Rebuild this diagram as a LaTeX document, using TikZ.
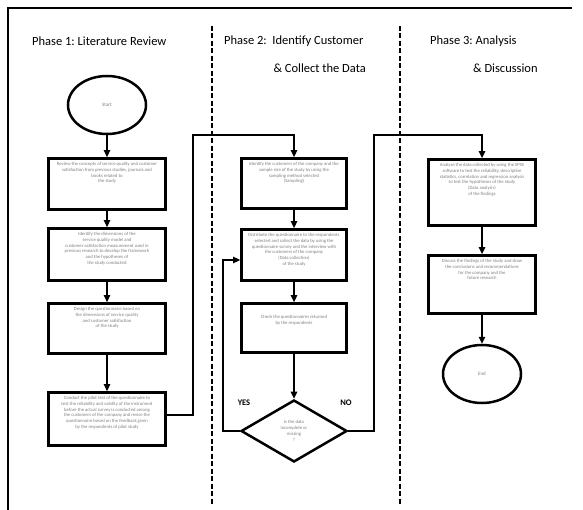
\documentclass[tikz,border=0pt]{standalone}
\usepackage{fontspec}
\setmainfont{Carlito}
\usetikzlibrary{arrows.meta,shapes.geometric,calc}
\frenchspacing
\begin{document}
\begin{tikzpicture}[x=1pt,y=-1pt,
  title/.style={font=\fontsize{12.5}{14}\selectfont, inner sep=0pt},
  divider/.style={line width=1.4pt, dash pattern=on 5pt off 2.5pt},
  frameline/.style={line width=1.3pt},
  box/.style={draw=black, line width=2.8pt, fill=white, inner sep=0pt, minimum width=#1},
  box/.default=117,
  boxtxt/.style={anchor=north, yshift=-5pt, inner sep=0pt, align=center,
    font=\fontsize{4.7}{5.8}\selectfont, text=black!50},
  startend/.style={ellipse, draw=black, line width=2.5pt, fill=white, inner sep=0pt,
    minimum width=78, minimum height=58, font=\fontsize{5}{6}\selectfont, text=black!50},
  decision/.style={diamond, draw=black, line width=2.5pt, fill=white, inner sep=0pt,
    minimum width=106, minimum height=62, align=center,
    font=\fontsize{4.7}{5.8}\selectfont, text=black!50},
  conn/.style={line width=1.3pt, -{Triangle[length=7pt,width=6.5pt]}},
  yn/.style={font=\bfseries\fontsize{8.5}{10}\selectfont, inner sep=0pt}
]
\useasboundingbox (0,0) rectangle (583,510);

% frame (top and left only)
\draw[frameline] (8,510) -- (8,8) -- (572,8);

% phase dividers
\draw[divider] (212,26) -- (212,505);
\draw[divider] (400,26) -- (400,505);

% titles
\node[title, anchor=west] (t1) at (32,41) {Phase 1: Literature Review};
\node[title, anchor=west] (t2) at (224,41) {Phase 2:\ \ Identify Customer};
\node[title, anchor=east] (t2b) at (366,68) {\& Collect the Data};
\node[title, anchor=west] (t3) at (430,41) {Phase 3: Analysis};
\node[title, anchor=west] (t3b) at (473,68) {\& Discussion};

% Phase 1
\node[startend] (start) at (107,105) {Start};
\node[box, minimum height=51,
  label={[boxtxt]north:{Review the concepts of service quality and customer\\satisfaction from previous studies, journals and\\books related to\\the study}}]
  (a1) at (107,184) {};
\node[box, minimum height=52,
  label={[boxtxt]north:{Identify the dimensions of the\\service quality model and\\customer satisfaction measurement used in\\previous research to develop the framework\\and the hypotheses of\\the study conducted}}]
  (a2) at (107,254.5) {};
\node[box, minimum height=50,
  label={[boxtxt]north:{Design the questionnaire based on\\the dimensions of service quality\\and customer satisfaction\\of the study}}]
  (a3) at (107,328.5) {};
\node[box, minimum height=53,
  label={[boxtxt]north:{Conduct the pilot test of the questionnaire to\\test the reliability and validity of the instrument\\before the actual survey is conducted among\\the customers of the company and revise the\\questionnaire based on the feedback given\\by the respondents of pilot study}}]
  (a4) at (107,419) {};

% Phase 2
\node[box=105, minimum height=50,
  label={[boxtxt]north:{Identify the customers of the company and the\\sample size of the study by using the\\sampling method selected\\(Sampling)}}]
  (b1) at (294,183.5) {};
\node[box=105, minimum height=51,
  label={[boxtxt]north:{Distribute the questionnaire to the respondents\\selected and collect the data by using the\\questionnaire survey and the interview with\\the customers of the company\\(Data collection)\\of the study}}]
  (b2) at (294,255) {};
\node[box=105, minimum height=49,
  label={[boxtxt, yshift=-8pt]north:{Check the questionnaires returned\\by the respondents}}]
  (b3) at (294,328) {};
\node[decision] (dm) at (294,431) {Is the data\\incomplete or\\missing\\?};
\node[yn] (yes) at (244,403) {YES};
\node[yn] (no) at (346,403) {NO};

% Phase 3
\node[box=107, minimum height=66,
  label={[boxtxt]north:{Analyse the data collected by using the SPSS\\software to test the reliability, descriptive\\statistics, correlation and regression analysis\\to test the hypotheses of the study\\(Data analysis)\\of the findings}}]
  (c1) at (482,192.5) {};
\node[box=107, minimum height=58,
  label={[boxtxt]north:{Discuss the findings of the study and draw\\the conclusions and recommendations\\for the company and the\\future research}}]
  (c2) at (482,284.5) {};
\node[startend] (end) at (482,374) {End};

% connectors
\draw[conn] (start) -- (a1);
\draw[conn] (a1) -- (a2);
\draw[conn] (a2) -- (a3);
\draw[conn] (a3) -- (a4);
\draw[conn] ([yshift=4pt]a4.east) -| (193,135) -| (b1.north);
\draw[conn] (b1) -- (b2);
\draw[conn] (b2) -- (b3);
\draw[conn] (b3) -- (dm);
\draw[conn] (dm.west) -| ($(b2.west)+(-17,5)$) -- ($(b2.west)+(0,5)$);
\draw[conn] (dm.east) -| (374,135) -| (c1.north);
\draw[conn] (c1) -- (c2);
\draw[conn] (c2) -- (end);
\end{tikzpicture}
\end{document}
